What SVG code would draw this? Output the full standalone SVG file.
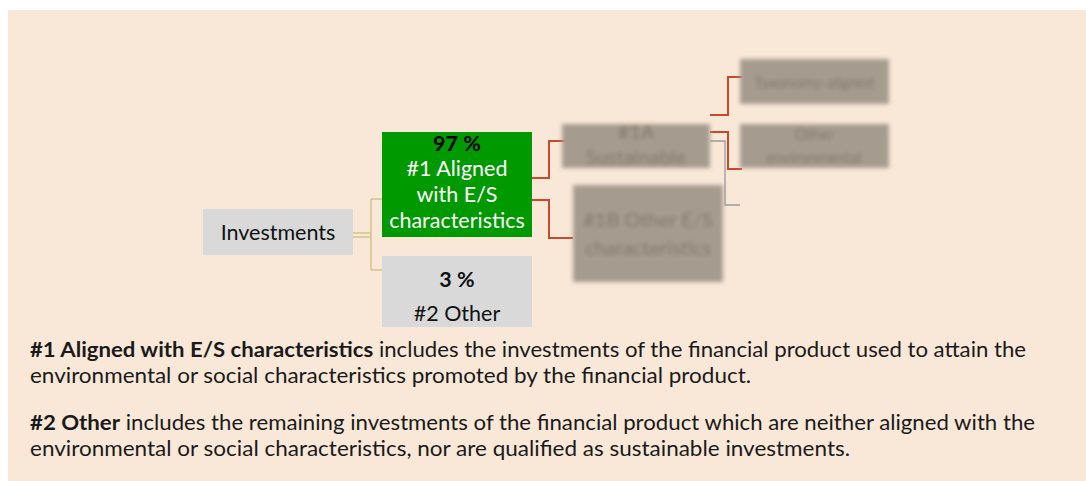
<svg xmlns="http://www.w3.org/2000/svg" width="1086" height="481" viewBox="0 0 1086 481">
  <defs>
    <filter id="blur" x="-10%" y="-20%" width="120%" height="140%">
      <feGaussianBlur stdDeviation="2.2"/>
    </filter>
    <style>
      text { font-family: Lato, "Liberation Sans", sans-serif; }
      .node { font-size: 21.5px; text-anchor: middle; }
      .body { font-size: 20.5px; fill: #1a1a1a; }
      .b { font-weight: bold; }
      .gold { fill: none; stroke: #D4C486; stroke-width: 1.5; }
      .red { fill: none; stroke: #C94A28; stroke-width: 2; }
      .grey { fill: none; stroke: #9A9A9A; stroke-width: 1.3; }
      .blurbox { fill: #A69B8F; }
      .blurtxt { fill: #81766B; font-size: 20px; text-anchor: middle; }
      .small { font-size: 15px; }
    </style>
  </defs>
  <rect x="8" y="10" width="1078" height="471" fill="#F9E8D8"/>

  <g id="connectors">
    <path class="gold" d="M353,233 H371 M353,237 H371 M371,199 V270 M371,199 H382 M371,270 H382"/>
    <path class="red" d="M532,178 H549 V141 H567 M532,200 H549 V238 H573"/>
    <path class="red" d="M710,115 H728 V77 H742 M710,132 H728 V169 H742"/>
    <path class="grey" d="M710,141 H725 V205 H740"/>
  </g>

  <g id="investments">
    <rect x="203" y="209" width="150" height="46" fill="#D9D9D9"/>
    <text class="node" x="278" y="240" fill="#111">Investments</text>
  </g>

  <g id="aligned">
    <rect x="382" y="132" width="150" height="105" fill="#009900"/>
    <text class="node b" x="457" y="151" fill="#000">97 %</text>
    <text class="node" x="457" y="176" fill="#fff">#1 Aligned</text>
    <text class="node" x="457" y="202" fill="#fff">with E/S</text>
    <text class="node" x="457" y="228" fill="#fff">characteristics</text>
  </g>

  <g id="other">
    <rect x="382" y="256" width="150" height="71" fill="#D9D9D9"/>
    <text class="node b" x="457" y="287" fill="#111">3 %</text>
    <text class="node" x="457" y="321" fill="#111">#2 Other</text>
  </g>

  <g id="blurred" filter="url(#blur)">
    <g id="sustainable">
      <rect class="blurbox" x="562" y="124" width="148" height="44"/>
      <text class="blurtxt" x="636" y="139">#1A</text>
      <text class="blurtxt" x="636" y="164">Sustainable</text>
    </g>
    <g id="other-es">
      <rect class="blurbox" x="573" y="185" width="150" height="97"/>
      <text class="blurtxt" x="648" y="227">#1B Other E/S</text>
      <text class="blurtxt" x="648" y="255">characteristics</text>
    </g>
    <g id="taxonomy">
      <rect class="blurbox" x="740" y="59" width="149" height="45"/>
      <text class="blurtxt small" x="814" y="88">Taxonomy-aligned</text>
    </g>
    <g id="other-env">
      <rect class="blurbox" x="740" y="124" width="149" height="44"/>
      <text class="blurtxt small" x="814" y="140">Other</text>
      <text class="blurtxt small" x="814" y="163">environmental</text>
    </g>
  </g>

  <g id="legend">
    <text class="body" x="30" y="357" textLength="996" lengthAdjust="spacingAndGlyphs"><tspan class="b">#1 Aligned with E/S characteristics</tspan> includes the investments of the financial product used to attain the</text>
    <text class="body" x="30" y="383" textLength="721" lengthAdjust="spacingAndGlyphs">environmental or social characteristics promoted by the financial product.</text>
    <text class="body" x="30" y="430" textLength="1005" lengthAdjust="spacingAndGlyphs"><tspan class="b">#2 Other</tspan> includes the remaining investments of the financial product which are neither aligned with the</text>
    <text class="body" x="30" y="456" textLength="820" lengthAdjust="spacingAndGlyphs">environmental or social characteristics, nor are qualified as sustainable investments.</text>
  </g>
</svg>
